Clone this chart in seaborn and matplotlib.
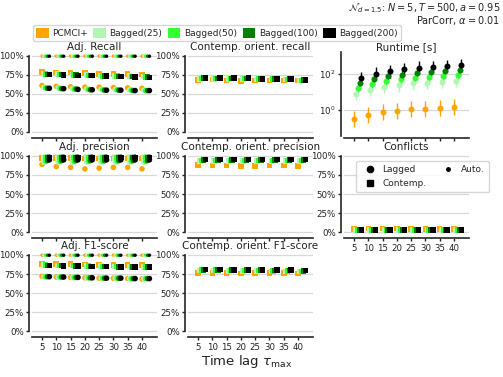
import numpy as np
import pandas as pd
import matplotlib
matplotlib.use("Agg")
import matplotlib.pyplot as plt
import seaborn as sns
from matplotlib.patches import Patch
from matplotlib.lines import Line2D
from matplotlib.ticker import PercentFormatter, NullFormatter

# x axis: maximum time lag
taus = [5, 10, 15, 20, 25, 30, 35, 40]
methods = ["PCMCI+", "Bagged(25)", "Bagged(50)", "Bagged(100)", "Bagged(200)"]
method_colors = ["#ffa500", "#b3f5b3", "#33ff33", "#008000", "#000000"]

# values in %, one row per method (same order as `methods`)
adj_recall_auto = [
    [99.8, 99.8, 99.8, 99.8, 99.8, 99.8, 99.8, 99.8],
    [99.7, 99.7, 99.7, 99.7, 99.7, 99.7, 99.7, 99.7],
    [99.7, 99.7, 99.7, 99.7, 99.7, 99.7, 99.7, 99.7],
    [99.7, 99.7, 99.7, 99.7, 99.7, 99.7, 99.7, 99.7],
    [99.7, 99.7, 99.7, 99.7, 99.7, 99.7, 99.7, 99.7],
]
adj_recall_contemp = [
    [79.0, 78.5, 78.0, 77.5, 76.5, 76.0, 76.0, 75.5],
    [76.5, 76.0, 75.5, 75.0, 74.5, 74.0, 73.5, 73.0],
    [76.0, 75.5, 75.0, 74.5, 74.0, 73.5, 73.0, 72.5],
    [75.5, 75.5, 75.0, 74.5, 73.5, 73.0, 73.0, 72.0],
    [75.5, 75.0, 74.5, 74.5, 73.5, 73.0, 72.5, 71.5],
]
adj_recall_lagged = [
    [61.0, 60.0, 59.5, 59.0, 59.0, 58.5, 58.0, 57.5],
    [58.5, 58.0, 57.0, 56.5, 56.0, 56.0, 55.5, 55.0],
    [58.0, 57.5, 56.5, 56.0, 55.5, 55.5, 55.0, 54.5],
    [57.5, 57.0, 56.5, 55.5, 55.0, 55.0, 54.5, 54.5],
    [57.5, 57.0, 56.0, 55.5, 55.0, 55.0, 54.5, 54.5],
]

adj_prec_auto = [
    [99.5, 99.5, 99.5, 99.5, 99.5, 99.5, 99.5, 99.5],
    [99.8, 99.8, 99.8, 99.8, 99.8, 99.8, 99.8, 99.8],
    [99.8, 99.8, 99.8, 99.8, 99.8, 99.8, 99.8, 99.8],
    [99.8, 99.8, 99.8, 99.8, 99.8, 99.8, 99.8, 99.8],
    [99.8, 99.8, 99.8, 99.8, 99.8, 99.8, 99.8, 99.8],
]
adj_prec_contemp = [
    [97.5, 97.0, 97.0, 96.5, 96.5, 96.5, 96.5, 96.5],
    [97.5, 97.5, 97.5, 97.5, 97.5, 97.5, 97.5, 97.5],
    [98.0, 98.0, 98.0, 98.0, 98.0, 98.0, 98.0, 98.0],
    [98.0, 98.0, 98.0, 98.0, 98.0, 98.0, 98.0, 98.0],
    [98.0, 98.0, 98.0, 98.0, 98.0, 98.0, 98.0, 98.0],
]
adj_prec_lagged = [
    [89.0, 86.0, 85.0, 83.0, 84.0, 85.0, 85.0, 83.0],
    [92.0, 92.0, 92.0, 92.0, 92.0, 92.0, 92.0, 92.0],
    [93.0, 93.0, 93.0, 93.0, 93.0, 93.0, 93.0, 93.0],
    [94.0, 94.0, 94.0, 94.0, 94.0, 94.0, 94.0, 94.0],
    [95.0, 95.0, 95.0, 95.0, 95.0, 95.0, 95.0, 95.0],
]

adj_f1_auto = [
    [99.8, 99.8, 99.8, 99.8, 99.8, 99.8, 99.8, 99.8],
    [99.7, 99.7, 99.7, 99.7, 99.7, 99.7, 99.7, 99.7],
    [99.7, 99.7, 99.7, 99.7, 99.7, 99.7, 99.7, 99.7],
    [99.7, 99.7, 99.7, 99.7, 99.7, 99.7, 99.7, 99.7],
    [99.7, 99.7, 99.7, 99.7, 99.7, 99.7, 99.7, 99.7],
]
adj_f1_contemp = [
    [88.5, 88.0, 88.0, 87.5, 87.0, 87.0, 87.0, 86.5],
    [86.5, 86.0, 86.0, 85.5, 85.5, 85.0, 85.0, 84.5],
    [86.5, 86.0, 86.0, 85.5, 85.0, 85.0, 84.5, 84.5],
    [86.0, 86.0, 85.5, 85.0, 85.0, 84.5, 84.5, 84.0],
    [86.0, 85.5, 85.5, 85.0, 85.0, 84.5, 84.5, 84.0],
]
adj_f1_lagged = [
    [72.0, 71.0, 70.5, 70.0, 69.5, 69.5, 69.0, 68.5],
    [71.5, 71.0, 70.5, 70.0, 69.5, 69.5, 69.0, 69.0],
    [71.5, 71.0, 70.5, 70.0, 69.5, 69.5, 69.0, 69.0],
    [71.5, 71.0, 70.5, 70.0, 69.5, 69.5, 69.0, 69.0],
    [71.5, 71.0, 70.5, 70.0, 69.5, 69.5, 69.0, 69.0],
]

orient_recall = [
    [68.5, 69.0, 68.0, 67.0, 68.0, 68.0, 68.0, 67.5],
    [70.0, 70.0, 70.0, 70.0, 69.0, 69.0, 69.0, 68.0],
    [70.5, 70.5, 70.5, 70.5, 69.5, 69.5, 69.0, 68.0],
    [71.0, 70.5, 70.5, 70.5, 69.5, 69.5, 69.5, 68.5],
    [71.0, 71.0, 71.0, 71.0, 70.0, 69.5, 69.5, 68.5],
]
orient_prec = [
    [88.0, 87.5, 87.5, 86.5, 87.0, 87.5, 87.5, 87.0],
    [93.5, 93.5, 93.5, 93.5, 93.5, 93.5, 93.5, 93.5],
    [94.0, 94.0, 94.0, 94.0, 94.0, 94.0, 94.0, 94.0],
    [95.0, 95.0, 95.0, 95.0, 95.0, 95.0, 95.0, 95.0],
    [95.5, 95.5, 95.5, 95.5, 95.5, 95.5, 95.5, 95.5],
]
orient_f1 = [
    [76.5, 76.5, 76.5, 75.5, 76.0, 76.0, 76.0, 75.5],
    [79.5, 79.5, 79.0, 79.0, 79.0, 78.5, 78.5, 78.0],
    [80.0, 80.0, 79.5, 79.5, 79.5, 79.0, 79.0, 78.5],
    [80.5, 80.5, 80.0, 80.0, 80.0, 79.5, 79.5, 79.0],
    [81.0, 81.0, 80.5, 80.5, 80.5, 80.0, 80.0, 79.5],
]
conflicts_contemp = [
    [4.0, 4.5, 4.5, 4.5, 4.0, 4.0, 4.0, 4.0],
    [3.3, 3.3, 3.3, 3.3, 3.3, 3.3, 3.3, 3.3],
    [3.0, 3.0, 3.0, 3.0, 3.0, 3.0, 3.0, 3.0],
    [3.0, 3.0, 3.0, 3.0, 3.0, 3.0, 3.0, 3.0],
    [3.0, 3.0, 3.0, 3.0, 3.0, 3.0, 3.0, 3.0],
]

# runtime in seconds and error bar half-width in decades
runtime = [
    [0.32, 0.52, 0.71, 0.87, 1.05, 1.15, 1.23, 1.35],
    [7.6, 13.0, 18.0, 23.0, 29.0, 31.0, 36.0, 41.0],
    [16.0, 28.0, 38.0, 48.0, 60.0, 64.0, 74.0, 85.0],
    [29.0, 52.0, 71.0, 90.0, 112.0, 120.0, 138.0, 158.0],
    [57.0, 100.0, 135.0, 174.0, 219.0, 234.0, 269.0, 309.0],
]
runtime_err_dec = [0.45, 0.35, 0.35, 0.35, 0.35]

# layout / style (not data)
x_offsets = [0.0, 0.65, 1.3, 1.95, 2.6]
link_markers = {"Auto.": "o", "Contemp.": "s", "Lagged": "o"}
link_sizes = {"Auto.": 6, "Contemp.": 16, "Lagged": 16}


def panel_frame(series):
    # long form: method x link x tau
    rows = []
    for m, method in enumerate(methods):
        for link, vals in series.items():
            for t, tau in enumerate(taus):
                rows.append({"method": method, "link": link,
                             "x": tau + x_offsets[m], "value": vals[m][t] / 100.0})
    return pd.DataFrame(rows)


sns.set_style("ticks")
plt.rcParams["axes.linewidth"] = 1.2
plt.rcParams["xtick.major.width"] = 1.0
plt.rcParams["ytick.major.width"] = 1.0
plt.rcParams["xtick.major.size"] = 2.5
plt.rcParams["ytick.major.size"] = 2.5
plt.rcParams["xtick.major.pad"] = 2
plt.rcParams["ytick.major.pad"] = 1.5

fig = plt.figure(figsize=(5.03, 3.77), dpi=100)
col_left = [0.0636, 0.3738, 0.6839]
row_bottom = [0.6398, 0.3745, 0.1119]
w, h = 0.2485, 0.2218


def make_ax(r, c):
    return fig.add_axes([col_left[c], row_bottom[r], w, h])


def style_pct(ax, title, xlabels):
    ax.set_ylim(-0.05, 1.05)
    ax.set_xlim(1.5, 45.25)
    ax.set_yticks([0, 0.25, 0.5, 0.75, 1.0])
    ax.yaxis.set_major_formatter(PercentFormatter(1.0, decimals=0))
    ax.set_xticks(taus)
    if not xlabels:
        ax.xaxis.set_major_formatter(NullFormatter())
    ax.yaxis.grid(True, color="#d8d8d8", lw=0.9)
    ax.set_axisbelow(True)
    sns.despine(ax=ax)
    ax.spines["left"].set_bounds(0, 1)
    ax.spines["left"].set_position(("outward", 2))
    ax.spines["bottom"].set_position(("outward", 1.5))
    ax.tick_params(labelsize=6.2, colors="#222222")
    ax.set_xlabel("")
    ax.set_ylabel("")
    ax.set_title(title, fontsize=7.5, pad=1.5, color="#222222")


def draw_panel(ax, series):
    df = panel_frame(series)
    sns.scatterplot(data=df, x="x", y="value", hue="method", hue_order=methods,
                    palette=method_colors, style="link", markers=link_markers,
                    size="link", sizes=link_sizes, linewidth=0, legend=False,
                    clip_on=False, ax=ax)


panels = [
    (0, 0, "Adj. Recall", {"Auto.": adj_recall_auto, "Contemp.": adj_recall_contemp,
                            "Lagged": adj_recall_lagged}, False),
    (0, 1, "Contemp. orient. recall", {"Contemp.": orient_recall}, False),
    (1, 0, "Adj. precision", {"Auto.": adj_prec_auto, "Contemp.": adj_prec_contemp,
                               "Lagged": adj_prec_lagged}, False),
    (1, 1, "Contemp. orient. precision", {"Contemp.": orient_prec}, False),
    (1, 2, "Conflicts", {"Contemp.": conflicts_contemp}, True),
    (2, 0, "Adj. F1-score", {"Auto.": adj_f1_auto, "Contemp.": adj_f1_contemp,
                              "Lagged": adj_f1_lagged}, True),
    (2, 1, "Contemp. orient. F1-score", {"Contemp.": orient_f1}, True),
]

for r, c, title, series, xlabels in panels:
    ax = make_ax(r, c)
    draw_panel(ax, series)
    style_pct(ax, title, xlabels)
    if title == "Conflicts":
        handles = [
            Line2D([], [], marker="o", ls="", color="k", ms=4.5, label="Lagged"),
            Line2D([], [], marker="s", ls="", color="k", ms=4.0, label="Contemp."),
            Line2D([], [], marker="o", ls="", color="k", ms=2.5, label="Auto."),
        ]
        ax.legend(handles=handles, ncol=2, loc="upper left",
                  bbox_to_anchor=(0.06, 0.95), fontsize=6.5, handletextpad=0.4,
                  columnspacing=1.4, borderpad=0.5, framealpha=0.8)

# runtime panel
ax = make_ax(0, 2)
for m, method in enumerate(methods):
    vals = np.array(runtime[m])
    fac = 10 ** runtime_err_dec[m]
    yerr = [vals - vals / fac, vals * fac - vals]
    ax.errorbar(np.array(taus) + x_offsets[m], vals, yerr=yerr, fmt="o",
                color=method_colors[m], ms=4.3, mew=0, elinewidth=1.0,
                capsize=1.2, capthick=1.0)
ax.set_yscale("log")
ax.set_ylim(10 ** -1.45, 10 ** 3.2)
ax.set_xlim(1.5, 45.25)
ax.set_yticks([1, 100])
ax.minorticks_off()
ax.set_xticks(taus)
ax.xaxis.set_major_formatter(NullFormatter())
ax.yaxis.grid(True, color="#d8d8d8", lw=0.9)
ax.set_axisbelow(True)
sns.despine(ax=ax)
ax.spines["left"].set_position(("outward", 2))
ax.spines["bottom"].set_position(("outward", 1.5))
ax.tick_params(labelsize=6.2, colors="#222222")
ax.set_title("Runtime [s]", fontsize=7.5, pad=1.5, color="#222222")

# figure-level legend and texts
legend_handles = [Patch(facecolor=col, edgecolor="none", label=m)
                  for m, col in zip(methods, method_colors)]
fig.legend(handles=legend_handles, loc="upper left", bbox_to_anchor=(0.057, 0.945),
           ncol=5, fontsize=6.5, handlelength=1.4, handleheight=1.4,
           handletextpad=0.4, columnspacing=0.6, borderpad=0.3, framealpha=0.8)

fig.text(0.995, 0.998, "$\\mathcal{N}_{d=1.5}$: $N=5, T=500, a=0.95$",
         ha="right", va="top", fontsize=7.0, color="#222222")
fig.text(0.995, 0.946, "ParCorr, $\\alpha=0.01$",
         ha="right", va="center", fontsize=7.0, color="#222222")
fig.text(0.49, 0.04, "Time lag $\\tau_{\\max}$", ha="center", va="center", fontsize=9.5,
         color="#222222")

fig.savefig("out.png", dpi=100)
